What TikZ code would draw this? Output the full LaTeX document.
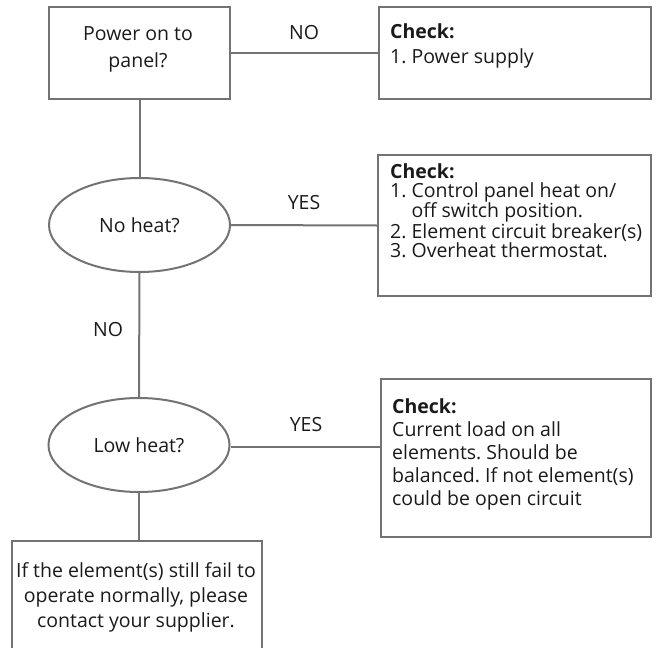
\documentclass[tikz,border=0pt]{standalone}
\usepackage{fontspec}
\setmainfont{Open Sans}
\frenchspacing
\usetikzlibrary{shapes.geometric}
\definecolor{linegray}{HTML}{737373}
\definecolor{inkblack}{HTML}{1A1A1A}
\begin{document}
\begin{tikzpicture}[x=1pt,y=-1pt,
  box/.style={draw=linegray, line width=2pt, rectangle, inner sep=0pt},
  oval/.style={draw=linegray, line width=2pt, ellipse, inner sep=0pt,
    minimum width=181pt, minimum height=94pt, text=inkblack,
    font=\fontsize{19.5}{22}\selectfont},
  conn/.style={draw=linegray, line width=2pt},
  lbl/.style={font=\fontsize{19.5}{22}\selectfont, inner sep=0pt, text=inkblack},
  txt/.style={inner sep=0pt, anchor=north west, align=left, text=inkblack},
  ctxt/.style={inner sep=0pt, anchor=north, align=center, text=inkblack}
]
\useasboundingbox (0,0) rectangle (659,648);
\clip (0,0) rectangle (659,648);

% boxes and decisions
\node[box, minimum width=181pt, minimum height=92pt] (q1) at (139.5,53) {};
\node[ctxt, font=\fontsize{19.5}{27}\selectfont] (q1t) at (138,26) {Power on to\\panel?};

\node[box, minimum width=272pt, minimum height=92pt] (c1) at (515,53) {};
\node[txt, font=\fontsize{19.5}{25}\selectfont] (c1t) at (390,23.2) {\textbf{Check:}\\1. Power supply};

\node[oval] (q2) at (139.5,225) {No heat?};

\node[box, minimum width=273pt, minimum height=141pt] (c2) at (514.5,225.5) {};
\node[txt, font=\fontsize{19.5}{19}\selectfont] (c2t) at (390,163.2) {\textbf{Check:}\\1. Control panel heat on/\\\hphantom{1. }off switch position.\\2. Element circuit breaker(s)\\3. Overheat thermostat.};

\node[oval] (q3) at (139,445) {Low heat?};

\node[box, minimum width=270pt, minimum height=158pt] (c3) at (516,458) {};
\node[txt, font=\fontsize{19.5}{23}\selectfont] (c3t) at (392,398.2) {\textbf{Check:}\\Current load on all\\elements. Should be\\balanced. If not element(s)\\could be open circuit};

\node[box, minimum width=250pt, minimum height=159pt] (e1) at (137,620.5) {};
\node[ctxt, font=\fontsize{19.5}{25}\selectfont] (e1t) at (136,562.2) {If the element(s) still fail to\\operate normally, please\\contact your supplier.};

% connectors
\draw[conn] (q1.south) -- (q2.north);
\draw[conn] (q1.east) -- (c1.west);
\draw[conn] (q2.east) -- (c2.west);
\draw[conn] (q2.south) -- (q3.north);
\draw[conn] ([yshift=-2pt]q3.east) -- ([yshift=-2pt]q3.east -| c3.west);
\draw[conn] (q3.south) -- (q3.south |- e1.north);

% labels
\node[lbl] (l1) at (304,33) {NO};
\node[lbl] (l2) at (304,203) {YES};
\node[lbl] (l3) at (108,330) {NO};
\node[lbl] (l4) at (306,425) {YES};
\end{tikzpicture}
\end{document}
